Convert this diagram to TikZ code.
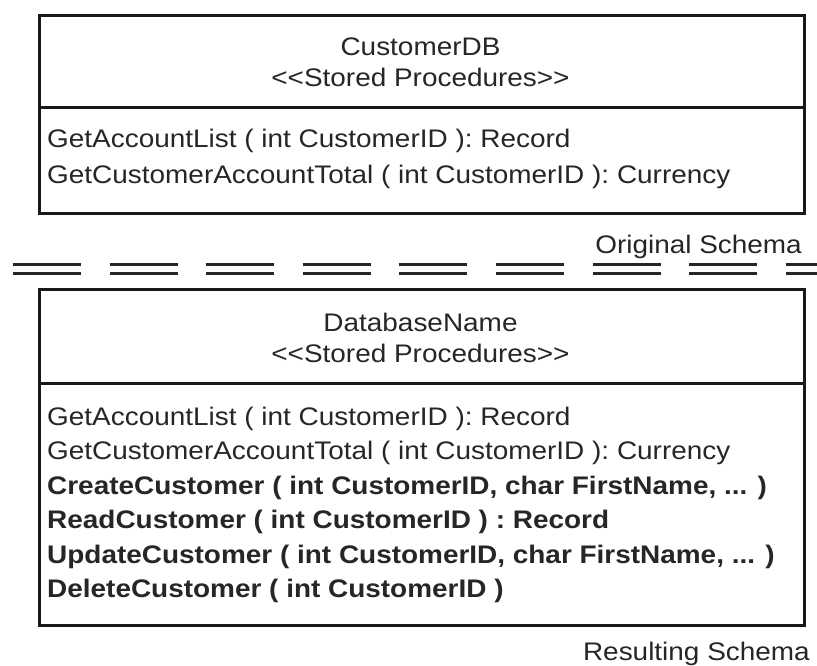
\documentclass[tikz,border=0pt]{standalone}
\usepackage{fontspec}
\setmainfont[FakeStretch=1.1]{Liberation Sans}
\begin{document}
\begin{tikzpicture}[x=1pt,y=1pt,
  box/.style={draw=black!90, line width=3pt, inner sep=0pt},
  divider/.style={draw=black!90, line width=3pt},
  txt/.style={inner sep=0pt, font=\fontsize{25.4}{30}\selectfont, text=black!85},
  btxt/.style={txt, font=\fontsize{25.4}{30}\selectfont\bfseries},
  schemasep/.style={draw=black!85, line width=3pt, dash pattern=on 68pt off 28.6pt}]
\useasboundingbox (0,0) rectangle (817,-666);

% Original schema box
\node[box, minimum width=765pt, minimum height=198pt, anchor=north west] (db1) at (38,-14) {};
\coordinate (d1) at (0,-108);
\draw[divider] (db1.west |- d1) -- (db1.east |- d1);
\node[txt, anchor=base] (h1a) at (420.5,-56) {CustomerDB};
\node[txt, anchor=base] (h1b) at (420.5,-87) {<{}<Stored Procedures>{}>};
\node[txt, anchor=base west] (m1a) at (47,-148) {GetAccountList ( int CustomerID ): Record};
\node[txt, anchor=base west] (m1b) at (47,-183) {GetCustomerAccountTotal ( int CustomerID ): Currency};

% separator
\node[txt, anchor=base east] (orig) at (802,-253) {Original Schema};
\coordinate (s1a) at (13,-264);
\coordinate (s1b) at (817,-264);
\coordinate (s2a) at (13,-273);
\coordinate (s2b) at (817,-273);
\draw[schemasep] (s1a) -- (s1b);
\draw[schemasep] (s2a) -- (s2b);

% Resulting schema box
\node[box, minimum width=765pt, minimum height=336pt, anchor=north west] (db2) at (38,-288) {};
\coordinate (d2) at (0,-383);
\draw[divider] (db2.west |- d2) -- (db2.east |- d2);
\node[txt, anchor=base] (h2a) at (420.5,-331) {DatabaseName};
\node[txt, anchor=base] (h2b) at (420.5,-362) {<{}<Stored Procedures>{}>};
\node[txt, anchor=base west] (m2a) at (47,-425) {GetAccountList ( int CustomerID ): Record};
\node[txt, anchor=base west] (m2b) at (47,-459.5) {GetCustomerAccountTotal ( int CustomerID ): Currency};
\node[btxt, anchor=base west] (m2c) at (47,-494) {CreateCustomer ( int CustomerID, char FirstName, ... )};
\node[btxt, anchor=base west] (m2d) at (47,-528.5) {ReadCustomer ( int CustomerID ) : Record};
\node[btxt, anchor=base west] (m2e) at (47,-563) {UpdateCustomer ( int CustomerID, char FirstName, ... )};
\node[btxt, anchor=base west] (m2f) at (47,-597.5) {DeleteCustomer ( int CustomerID )};

\node[txt, anchor=base east] (res) at (810,-660) {Resulting Schema};
\end{tikzpicture}
\end{document}
